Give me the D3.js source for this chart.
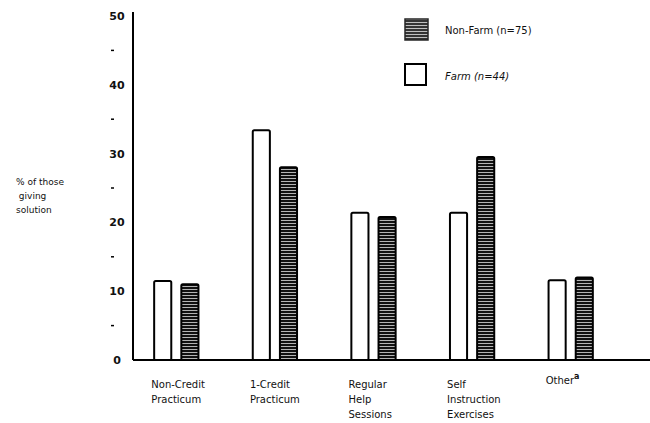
<!DOCTYPE html>
<html><head><meta charset="utf-8">
<script src="https://cdn.jsdelivr.net/npm/d3@7"></script>
<style>body{margin:0;background:#fff}svg{display:block}text{font-family:"DejaVu Sans",sans-serif;fill:#111}</style>
</head><body><svg id="c" width="650" height="423"></svg>
<script>
const categories = ["Non-Credit Practicum","1-Credit Practicum","Regular Help Sessions","Self Instruction Exercises","Other"];
const categoryLines = [["Non-Credit","Practicum"],["1-Credit","Practicum"],["Regular","Help","Sessions"],["Self","Instruction","Exercises"],["Other"]];
const seriesNames = ["Farm","Non-Farm"];
const farm = [11.5, 33.4, 21.4, 21.4, 11.6];
const nonFarm = [11.0, 28.0, 20.8, 29.5, 12.0];
const majorTicks = [0,10,20,30,40,50];
const minorTicks = [5,15,25,35,45];
const legendLabels = ["Non-Farm (n=75)","Farm (n=44)"];

const svg = d3.select("#c");
const defs = svg.append("defs");
const pat = defs.append("pattern").attr("id","hatch").attr("patternUnits","userSpaceOnUse").attr("width",6).attr("height",3);
pat.append("rect").attr("width",6).attr("height",3).attr("fill","#111");
pat.append("rect").attr("y",1).attr("width",6).attr("height",0.8).attr("fill","#ddd");

const y = d3.scaleLinear().domain([0,50]).range([360,16]);
const x = d3.scaleBand().domain(categories).range([127,620]);
const xi = d3.scaleBand().domain(seriesNames).range([0,x.bandwidth()]).paddingInner(0.37).paddingOuter(1.0);

// axes
svg.append("line").attr("x1",133).attr("x2",133).attr("y1",12).attr("y2",y(0)).attr("stroke","#000").attr("stroke-width",2);
svg.append("line").attr("x1",133).attr("x2",650).attr("y1",y(0)).attr("y2",y(0)).attr("stroke","#000").attr("stroke-width",2);

svg.selectAll(".mt").data(majorTicks).join("text").attr("x",117).attr("y",d=>y(d)+4)
  .attr("text-anchor","middle").attr("font-size",11).attr("font-weight","bold").text(d=>d);
svg.selectAll(".mn").data(minorTicks).join("line").attr("x1",111).attr("x2",114)
  .attr("y1",d=>y(d)).attr("y2",d=>y(d)).attr("stroke","#000").attr("stroke-width",1.5);

// bars
const data = categories.map((c,i)=>({c, vals:[{s:"Farm",v:farm[i]},{s:"Non-Farm",v:nonFarm[i]}]}));
const g = svg.selectAll(".grp").data(data).join("g").attr("transform",d=>`translate(${x(d.c)},0)`);
g.selectAll("rect").data(d=>d.vals).join("rect")
  .attr("x",d=>xi(d.s)).attr("width",xi.bandwidth())
  .attr("y",d=>y(d.v)).attr("height",d=>y(0)-y(d.v))
  .attr("rx",1.5)
  .attr("fill",d=>d.s==="Farm"?"#fff":"url(#hatch)")
  .attr("stroke","#000").attr("stroke-width",2);

// category labels
categoryLines.forEach((lines,i)=>{
  const lx = x(categories[i])+x.bandwidth()/2-25;
  const t = svg.append("text").attr("x",lx).attr("y",i===4?384:388).attr("font-size",10);
  lines.forEach((l,j)=>t.append("tspan").attr("x",lx).attr("dy",j===0?0:15).text(l));
  if(i===4) t.append("tspan").attr("dy",-5).attr("font-size",8).attr("font-weight","bold").text("a");
});

// y label
const yl = svg.append("text").attr("x",16).attr("y",185).attr("font-size",9);
["% of those"," giving","solution"].forEach((l,j)=>yl.append("tspan").attr("x",16).attr("dy",j?14:0).attr("xml:space","preserve").text(l));

// legend
svg.append("rect").attr("x",405).attr("y",19).attr("width",23).attr("height",21).attr("fill","url(#hatch)").attr("stroke","#000").attr("stroke-width",1.5).attr("opacity",0.85);
svg.append("rect").attr("x",405).attr("y",64).attr("width",21).attr("height",21).attr("fill","#fff").attr("stroke","#000").attr("stroke-width",2);
svg.append("text").attr("x",445).attr("y",34).attr("font-size",10).text(legendLabels[0]);
svg.append("text").attr("x",445).attr("y",80).attr("font-size",10).attr("font-style","italic").text(legendLabels[1]);
</script></body></html>
